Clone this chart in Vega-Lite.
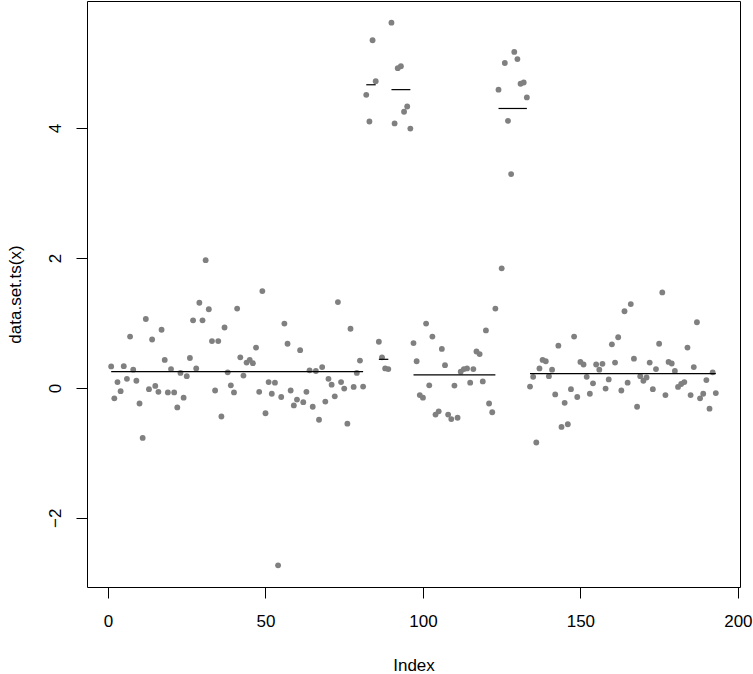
{
  "$schema": "https://vega.github.io/schema/vega-lite/v6.json",
  "width": 653,
  "height": 586,
  "autosize": {"type": "none"},
  "padding": {"left": 87, "top": 1, "right": 13, "bottom": 87},
  "background": "white",
  "config": {
    "view": {"stroke": "black", "strokeWidth": 1},
    "axis": {
      "domain": false,
      "grid": false,
      "tickColor": "black",
      "tickSize": 11,
      "labelFont": "Liberation Sans",
      "labelFontSize": 17,
      "labelColor": "black",
      "titleFont": "Liberation Sans",
      "titleFontSize": 17,
      "titleFontWeight": "normal",
      "titleColor": "black"
    }
  },
  "datasets": {
    "pts": [
      {"i": 1, "v": 0.33}, {"i": 2, "v": -0.16}, {"i": 3, "v": 0.09}, {"i": 4, "v": -0.05}, {"i": 5, "v": 0.335},
      {"i": 6, "v": 0.14}, {"i": 7, "v": 0.79}, {"i": 8, "v": 0.28}, {"i": 9, "v": 0.11}, {"i": 10, "v": -0.24},
      {"i": 11, "v": -0.77}, {"i": 12, "v": 1.06}, {"i": 13, "v": -0.02}, {"i": 14, "v": 0.745}, {"i": 15, "v": 0.03},
      {"i": 16, "v": -0.06}, {"i": 17, "v": 0.895}, {"i": 18, "v": 0.43}, {"i": 19, "v": -0.07}, {"i": 20, "v": 0.29},
      {"i": 21, "v": -0.07}, {"i": 22, "v": -0.3}, {"i": 23, "v": 0.23}, {"i": 24, "v": -0.15}, {"i": 25, "v": 0.18},
      {"i": 26, "v": 0.46}, {"i": 27, "v": 1.04}, {"i": 28, "v": 0.3}, {"i": 29, "v": 1.31}, {"i": 30, "v": 1.04},
      {"i": 31, "v": 1.965}, {"i": 32, "v": 1.21}, {"i": 33, "v": 0.72}, {"i": 34, "v": -0.04}, {"i": 35, "v": 0.72},
      {"i": 36, "v": -0.44}, {"i": 37, "v": 0.93}, {"i": 38, "v": 0.24}, {"i": 39, "v": 0.04}, {"i": 40, "v": -0.07},
      {"i": 41, "v": 1.22}, {"i": 42, "v": 0.47}, {"i": 43, "v": 0.19}, {"i": 44, "v": 0.39}, {"i": 45, "v": 0.43},
      {"i": 46, "v": 0.38}, {"i": 47, "v": 0.62}, {"i": 48, "v": -0.06}, {"i": 49, "v": 1.49}, {"i": 50, "v": -0.39},
      {"i": 51, "v": 0.09}, {"i": 52, "v": -0.09}, {"i": 53, "v": 0.08}, {"i": 54, "v": -2.73}, {"i": 55, "v": -0.14},
      {"i": 56, "v": 0.99}, {"i": 57, "v": 0.68}, {"i": 58, "v": -0.04}, {"i": 59, "v": -0.27}, {"i": 60, "v": -0.18},
      {"i": 61, "v": 0.58}, {"i": 62, "v": -0.22}, {"i": 63, "v": -0.06}, {"i": 64, "v": 0.27}, {"i": 65, "v": -0.29},
      {"i": 66, "v": 0.26}, {"i": 67, "v": -0.49}, {"i": 68, "v": 0.32}, {"i": 69, "v": -0.21}, {"i": 70, "v": 0.14},
      {"i": 71, "v": 0.05}, {"i": 72, "v": -0.13}, {"i": 73, "v": 1.32}, {"i": 74, "v": 0.09}, {"i": 75, "v": -0.01},
      {"i": 76, "v": -0.55}, {"i": 77, "v": 0.91}, {"i": 78, "v": 0.015}, {"i": 79, "v": 0.23}, {"i": 80, "v": 0.42},
      {"i": 81, "v": 0.02}, {"i": 82, "v": 4.51}, {"i": 83, "v": 4.1}, {"i": 84, "v": 5.35}, {"i": 85, "v": 4.72},
      {"i": 86, "v": 0.71}, {"i": 87, "v": 0.47}, {"i": 88, "v": 0.3}, {"i": 89, "v": 0.29}, {"i": 90, "v": 5.62},
      {"i": 91, "v": 4.07}, {"i": 92, "v": 4.92}, {"i": 93, "v": 4.95}, {"i": 94, "v": 4.25}, {"i": 95, "v": 4.33},
      {"i": 96, "v": 3.99}, {"i": 97, "v": 0.69}, {"i": 98, "v": 0.41}, {"i": 99, "v": -0.11}, {"i": 100, "v": -0.15},
      {"i": 101, "v": 0.99}, {"i": 102, "v": 0.04}, {"i": 103, "v": 0.79}, {"i": 104, "v": -0.41}, {"i": 105, "v": -0.36},
      {"i": 106, "v": 0.6}, {"i": 107, "v": 0.35}, {"i": 108, "v": -0.41}, {"i": 109, "v": -0.48}, {"i": 110, "v": 0.035},
      {"i": 111, "v": -0.46}, {"i": 112, "v": 0.25}, {"i": 113, "v": 0.29}, {"i": 114, "v": 0.3}, {"i": 115, "v": 0.08},
      {"i": 116, "v": 0.29}, {"i": 117, "v": 0.56}, {"i": 118, "v": 0.52}, {"i": 119, "v": 0.1}, {"i": 120, "v": 0.885},
      {"i": 121, "v": -0.24}, {"i": 122, "v": -0.375}, {"i": 123, "v": 1.22}, {"i": 124, "v": 4.59}, {"i": 125, "v": 1.84},
      {"i": 126, "v": 5.0}, {"i": 127, "v": 4.11}, {"i": 128, "v": 3.29}, {"i": 129, "v": 5.17}, {"i": 130, "v": 5.06},
      {"i": 131, "v": 4.68}, {"i": 132, "v": 4.7}, {"i": 133, "v": 4.47}, {"i": 134, "v": 0.02}, {"i": 135, "v": 0.17},
      {"i": 136, "v": -0.84}, {"i": 137, "v": 0.3}, {"i": 138, "v": 0.43}, {"i": 139, "v": 0.41}, {"i": 140, "v": 0.18},
      {"i": 141, "v": 0.28}, {"i": 142, "v": -0.1}, {"i": 143, "v": 0.65}, {"i": 144, "v": -0.6}, {"i": 145, "v": -0.23},
      {"i": 146, "v": -0.56}, {"i": 147, "v": -0.02}, {"i": 148, "v": 0.79}, {"i": 149, "v": -0.14}, {"i": 150, "v": 0.4},
      {"i": 151, "v": 0.36}, {"i": 152, "v": 0.17}, {"i": 153, "v": -0.09}, {"i": 154, "v": 0.07}, {"i": 155, "v": 0.36},
      {"i": 156, "v": 0.28}, {"i": 157, "v": 0.37}, {"i": 158, "v": -0.01}, {"i": 159, "v": 0.13}, {"i": 160, "v": 0.67},
      {"i": 161, "v": 0.39}, {"i": 162, "v": 0.78}, {"i": 163, "v": -0.04}, {"i": 164, "v": 1.18}, {"i": 165, "v": 0.08},
      {"i": 166, "v": 1.29}, {"i": 167, "v": 0.45}, {"i": 168, "v": -0.29}, {"i": 169, "v": 0.18}, {"i": 170, "v": 0.11},
      {"i": 171, "v": 0.16}, {"i": 172, "v": 0.39}, {"i": 173, "v": -0.02}, {"i": 174, "v": 0.29}, {"i": 175, "v": 0.68},
      {"i": 176, "v": 1.47}, {"i": 177, "v": -0.11}, {"i": 178, "v": 0.4}, {"i": 179, "v": 0.375}, {"i": 180, "v": 0.26},
      {"i": 181, "v": 0.015}, {"i": 182, "v": 0.06}, {"i": 183, "v": 0.09}, {"i": 184, "v": 0.62}, {"i": 185, "v": -0.11},
      {"i": 186, "v": 0.32}, {"i": 187, "v": 1.01}, {"i": 188, "v": -0.16}, {"i": 189, "v": -0.09}, {"i": 190, "v": 0.12},
      {"i": 191, "v": -0.32}, {"i": 192, "v": 0.24}, {"i": 193, "v": -0.08}
    ],
    "seg": [
      {"start": 1, "end": 81, "mean": 0.25},
      {"start": 82, "end": 85, "mean": 4.665},
      {"start": 86, "end": 89, "mean": 0.44},
      {"start": 90, "end": 96, "mean": 4.59},
      {"start": 97, "end": 123, "mean": 0.2},
      {"start": 124, "end": 133, "mean": 4.3},
      {"start": 134, "end": 193, "mean": 0.22}
    ]
  },
  "layer": [
    {
      "data": {"name": "pts"},
      "mark": {"type": "circle", "size": 34, "color": "#808080", "opacity": 1},
      "encoding": {
        "x": {
          "field": "i",
          "type": "quantitative",
          "scale": {"domain": [-6.68, 200.68], "nice": false, "zero": false},
          "axis": {
            "title": "Index",
            "values": [0, 50, 100, 150, 200],
            "format": "d",
            "labelPadding": 15,
            "titleBaseline": "alphabetic",
            "titleY": 83
          }
        },
        "y": {
          "field": "v",
          "type": "quantitative",
          "scale": {"domain": [-3.064, 5.954], "nice": false, "zero": false},
          "axis": {
            "title": "data.set.ts(x)",
            "values": [-2, 0, 2, 4],
            "format": "d",
            "labelAngle": -90,
            "labelAlign": "center",
            "labelBaseline": "bottom",
            "labelPadding": 12,
            "titleBaseline": "middle",
            "titleX": -72,
            "titleY": 293
          }
        }
      }
    },
    {
      "data": {"name": "seg"},
      "mark": {"type": "rule", "color": "black", "strokeWidth": 1.2},
      "encoding": {
        "x": {"field": "start", "type": "quantitative"},
        "x2": {"field": "end"},
        "y": {"field": "mean", "type": "quantitative"}
      }
    }
  ]
}
